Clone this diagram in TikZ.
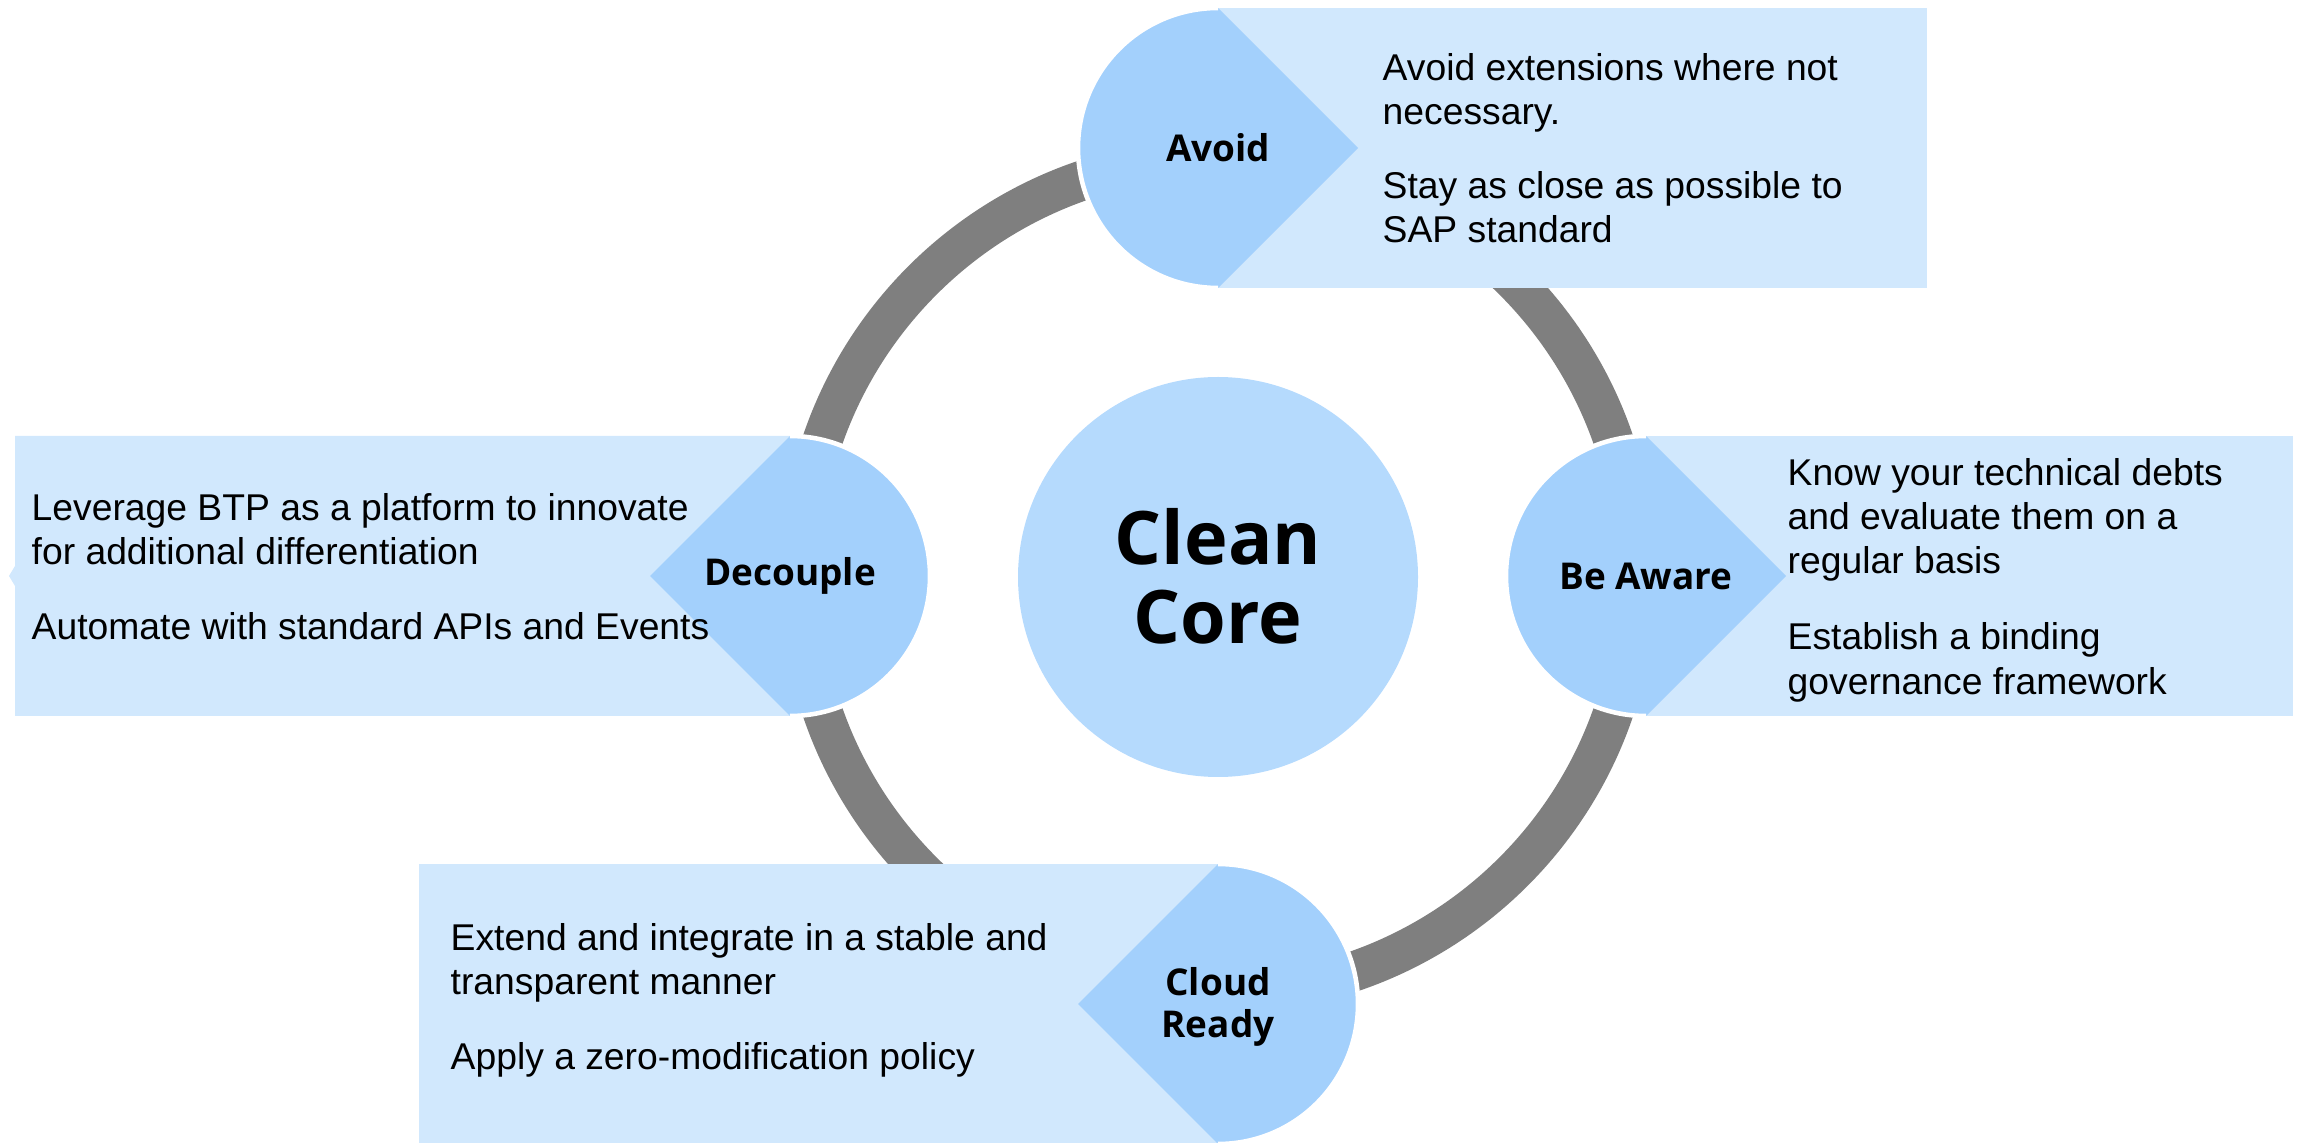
\documentclass[tikz,border=0pt]{standalone}
\usepackage{fontspec}
\setmainfont{Liberation Sans}
\newfontfamily\tagfont{Open Sans}

\definecolor{ringgray}{HTML}{7F7F7F}
\definecolor{coreblue}{HTML}{B5DAFD}
\definecolor{tagblue}{HTML}{A3D0FC}
\definecolor{boxblue}{HTML}{D1E8FD}

\begin{document}
\begin{tikzpicture}[x=0.01cm, y=0.01cm,
    tagedge/.style={draw=white, line width=1.3pt},
    tagtext/.style={font=\tagfont\bfseries\fontsize{10.5}{12}\selectfont, align=center, inner sep=0pt},
    boxtext/.style={font=\fontsize{10.6}{12.55}\selectfont, align=left, anchor=west, inner sep=0pt}]

    \useasboundingbox (0, 0) rectangle (2306, 1142);

    \coordinate (cc) at (1218, 566);
    \coordinate (avoid) at (1218, 994);
    \coordinate (aware) at (1646, 566);
    \coordinate (decouple) at (790, 566);
    \coordinate (cloud) at (1218, 135);

    \draw[ringgray, line width=0.4cm] (cc) circle (418);

    \fill[coreblue] (1218, 565) circle (200);
    \node[font=\tagfont\bfseries\fontsize{21}{22.5}\selectfont, align=center, inner sep=0pt] (core) at (1218, 566) {Clean\\Core};

    \fill[boxblue] (1218, 854) rectangle (1927, 1134);
    \fill[boxblue] (1646, 426) rectangle (2293, 706);
    \fill[boxblue] (15, 426) -- (790, 426) -- (790, 706) -- (15, 706) -- (15, 576) -- (9, 566) -- (15, 556) -- cycle;
    \fill[boxblue] (419, -2) rectangle (1218, 278);

    \fill[tagblue] (1218, 1134) arc (90:270:140) -- (1358, 994) -- cycle;
    \draw[tagedge] (1218, 1134) arc (90:270:140);
    \fill[tagblue] (1646, 706) arc (90:270:140) -- (1786, 566) -- cycle;
    \draw[tagedge] (1646, 706) arc (90:270:140);
    \fill[tagblue] (790, 706) arc (90:-90:140) -- (650, 566) -- cycle;
    \draw[tagedge] (790, 706) arc (90:-90:140);
    \fill[tagblue] (1218, 278) arc (90:-90:140) -- (1078, 138) -- cycle;
    \draw[tagedge] (1218, 278) arc (90:-90:140);

    \node[tagtext] (avoidtag) at (avoid) {Avoid};
    \node[tagtext] (awaretag) at (aware) {Be Aware};
    \node[tagtext] (decoupletag) at (decouple) {Decouple};
    \node[tagtext] (cloudtag) at (cloud) {Cloud\\Ready};

    \node[boxtext] (avoidtext) at (1382, 994) {Avoid extensions where not\\necessary.\\[8.4pt]Stay as close as possible to\\SAP standard};
    \node[boxtext] (awaretext) at (1787, 562) {Know your technical debts\\and evaluate them on a\\regular basis\\[9.2pt]Establish a binding\\governance framework};
    \node[boxtext] (decoupletext) at (31, 575) {Leverage BTP as a platform to innovate\\for additional differentiation\\[8.8pt]Automate with standard APIs and Events};
    \node[boxtext] (cloudtext) at (450, 142) {Extend and integrate in a stable and\\transparent manner\\[8.8pt]Apply a zero-modification policy};

\end{tikzpicture}
\end{document}
